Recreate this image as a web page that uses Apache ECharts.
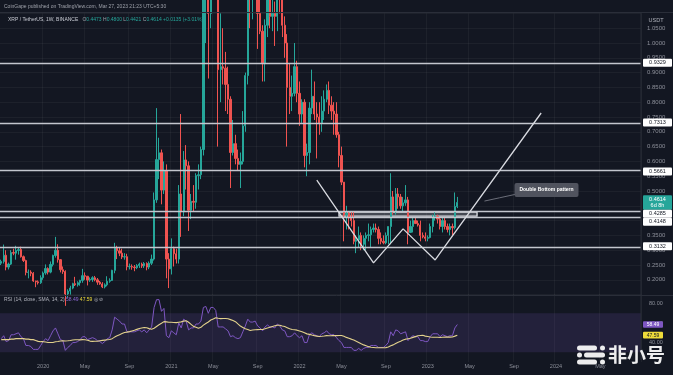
<!DOCTYPE html>
<html><head><meta charset="utf-8">
<script src="https://cdn.jsdelivr.net/npm/echarts@6/dist/echarts.min.js"></script>
<style>html,body{margin:0;padding:0;background:#131722;overflow:hidden;}#c{width:673px;height:375px;}</style>
</head><body><div id="c"></div>
<script>
// ---------------- DATA ----------------
const firstWeek = '2019-09-09';
const totalWeeks = 260;
// weekly candles [open, close, low, high]
const weeklyOHLC = [
[0.256,0.262,0.250,0.268],[0.262,0.283,0.255,0.319],[0.283,0.243,0.232,0.300],[0.243,0.253,0.235,0.258],
[0.253,0.292,0.250,0.300],[0.292,0.290,0.283,0.305],[0.290,0.299,0.268,0.315],[0.299,0.302,0.285,0.310],
[0.302,0.278,0.275,0.312],[0.278,0.265,0.260,0.282],[0.265,0.225,0.215,0.268],[0.225,0.226,0.205,0.235],
[0.226,0.222,0.212,0.232],[0.222,0.196,0.193,0.226],[0.196,0.193,0.175,0.197],[0.193,0.190,0.184,0.198],
[0.190,0.207,0.186,0.215],
[0.207,0.223,0.200,0.228],[0.223,0.238,0.217,0.252],[0.238,0.226,0.218,0.242],[0.226,0.252,0.222,0.262],
[0.252,0.282,0.245,0.285],[0.282,0.300,0.275,0.345],[0.300,0.268,0.258,0.320],[0.268,0.234,0.225,0.270],
[0.234,0.228,0.220,0.245],[0.228,0.152,0.112,0.232],[0.152,0.162,0.140,0.168],[0.162,0.172,0.150,0.180],
[0.172,0.187,0.168,0.190],[0.187,0.183,0.179,0.210],[0.183,0.190,0.177,0.195],[0.190,0.198,0.180,0.200],
[0.198,0.214,0.190,0.237],[0.214,0.212,0.200,0.225],[0.212,0.199,0.181,0.213],[0.199,0.201,0.193,0.208],
[0.201,0.207,0.193,0.212],[0.207,0.200,0.195,0.213],[0.200,0.192,0.183,0.206],[0.192,0.186,0.183,0.196],
[0.186,0.176,0.172,0.192],[0.176,0.183,0.171,0.188],[0.183,0.195,0.178,0.212],[0.195,0.198,0.190,0.205],
[0.198,0.232,0.196,0.234],[0.232,0.307,0.222,0.325],[0.307,0.298,0.270,0.315],[0.298,0.290,0.280,0.310],
[0.290,0.277,0.270,0.305],[0.277,0.278,0.268,0.290],[0.278,0.244,0.232,0.288],[0.244,0.245,0.235,0.255],
[0.245,0.243,0.234,0.252],[0.243,0.241,0.229,0.250],[0.241,0.248,0.236,0.253],[0.248,0.253,0.240,0.258],
[0.253,0.247,0.240,0.258],[0.247,0.255,0.240,0.260],[0.255,0.243,0.232,0.259],[0.243,0.256,0.236,0.262],
[0.256,0.270,0.250,0.285],[0.270,0.470,0.265,0.495],[0.470,0.606,0.460,0.780],[0.606,0.629,0.540,0.680],
[0.629,0.503,0.455,0.640],[0.503,0.568,0.490,0.600],[0.568,0.270,0.205,0.590],[0.270,0.237,0.172,0.290],
[0.237,0.305,0.218,0.340],[0.305,0.288,0.245,0.312],[0.288,0.270,0.255,0.305],[0.270,0.490,0.255,0.520],
[0.490,0.430,0.345,0.760],[0.430,0.605,0.415,0.635],[0.605,0.585,0.505,0.655],[0.585,0.435,0.365,0.600],
[0.435,0.465,0.405,0.490],[0.465,0.462,0.430,0.520],[0.462,0.552,0.440,0.560],[0.552,0.555,0.505,0.590],
[0.555,0.640,0.540,0.650],[0.640,1.340,0.620,1.420],[1.340,1.380,1.000,1.960],[1.380,1.100,0.880,1.430],
[1.100,1.520,1.050,1.680],[1.520,1.570,1.400,1.750],[1.570,1.450,1.150,1.800],[1.450,0.910,0.650,1.600],
[0.910,0.920,0.800,1.100],[0.920,0.915,0.860,1.050],[0.915,0.860,0.770,0.970],[0.860,0.810,0.760,0.920],
[0.810,0.630,0.510,0.820],[0.630,0.660,0.620,0.740],[0.660,0.610,0.590,0.690],[0.610,0.590,0.570,0.640],
[0.590,0.600,0.510,0.630],[0.600,0.720,0.590,0.770],[0.720,0.890,0.700,0.900],[0.890,1.270,0.860,1.290],
[1.270,1.170,1.050,1.350],[1.170,1.180,1.080,1.410],[1.180,1.260,1.110,1.330],[1.260,1.100,0.980,1.410],
[1.100,1.040,1.030,1.170],[1.040,0.930,0.870,1.060],[0.930,1.060,0.870,1.080],[1.060,1.160,1.020,1.230],
[1.160,1.090,1.050,1.220],[1.090,1.100,1.040,1.160],[1.100,1.090,0.990,1.140],[1.090,1.250,1.040,1.280],
[1.250,1.190,1.100,1.350],[1.190,1.060,1.020,1.210],[1.060,1.000,0.950,1.090],[1.000,0.850,0.650,1.030],
[0.850,0.820,0.760,0.930],[0.820,0.830,0.770,0.890],[0.830,0.920,0.820,1.000],[0.920,0.830,0.800,0.940],
[0.830,0.760,0.720,0.870],[0.760,0.800,0.730,0.810],[0.800,0.620,0.580,0.810],[0.620,0.630,0.550,0.660],
[0.630,0.780,0.590,0.800],[0.780,0.820,0.760,0.910],[0.820,0.760,0.740,0.870],[0.760,0.750,0.610,0.800],
[0.750,0.730,0.690,0.800],[0.730,0.770,0.700,0.820],[0.770,0.810,0.740,0.840],[0.810,0.840,0.800,0.860],
[0.840,0.790,0.760,0.870],[0.790,0.770,0.740,0.820],[0.770,0.760,0.690,0.800],[0.760,0.690,0.680,0.800],
[0.690,0.620,0.580,0.700],[0.620,0.530,0.520,0.650],[0.530,0.420,0.330,0.530],[0.420,0.425,0.370,0.450],
[0.425,0.410,0.370,0.430],[0.410,0.400,0.380,0.430],[0.400,0.330,0.320,0.430],[0.330,0.335,0.290,0.350],
[0.335,0.350,0.310,0.380],[0.350,0.320,0.300,0.360],[0.320,0.340,0.300,0.350],[0.340,0.350,0.300,0.360],
[0.350,0.352,0.330,0.390],[0.352,0.370,0.310,0.380],[0.370,0.375,0.360,0.390],[0.375,0.370,0.360,0.390],
[0.370,0.340,0.320,0.380],[0.340,0.330,0.320,0.360],[0.330,0.325,0.320,0.350],[0.325,0.350,0.320,0.360],
[0.350,0.380,0.320,0.380],[0.380,0.480,0.320,0.560],[0.480,0.430,0.420,0.500],[0.430,0.490,0.420,0.510],
[0.490,0.480,0.440,0.510],[0.480,0.450,0.440,0.490],[0.450,0.460,0.430,0.480],[0.460,0.470,0.450,0.520],
[0.470,0.360,0.320,0.480],[0.360,0.380,0.360,0.400],[0.380,0.400,0.360,0.410],[0.400,0.390,0.390,0.410],
[0.390,0.385,0.380,0.400],[0.385,0.350,0.330,0.400],[0.350,0.345,0.340,0.360],[0.345,0.340,0.330,0.360],
[0.340,0.343,0.330,0.350],[0.343,0.380,0.340,0.390],[0.380,0.410,0.360,0.420],[0.410,0.415,0.400,0.430],
[0.415,0.405,0.390,0.420],[0.405,0.380,0.370,0.410],[0.380,0.400,0.360,0.410],[0.400,0.380,0.370,0.410],
[0.380,0.370,0.360,0.390],[0.370,0.380,0.350,0.390],[0.380,0.376,0.350,0.390],[0.376,0.4479,0.370,0.4950],
[0.4473,0.4614,0.4421,0.4800]
];
const rsiValues = [
44,47,41,42,48,48,49,50,46,44,
37,37,36,33,33,33,37,41,44,42,
47,52,55,49,43,42,32,35,37,40,
40,41,43,46,46,43,44,45,44,42,
41,39,41,44,45,53,66,64,62,59,
59,51,51,51,51,52,53,51,53,50,
53,56,76,84,84,72,75,47,45,52,
50,48,60,55,64,62,53,55,55,59,
59,62,76,77,70,76,76,73,56,56,
56,54,52,46,47,45,44,45,51,57,
64,61,61,62,57,55,52,56,58,56,
56,55,59,57,53,52,46,46,47,50,
47,45,47,40,40,48,50,48,47,46,
49,50,52,49,48,48,45,42,40,35,
35,35,35,32,32,34,32,34,35,35,
37,37,37,35,35,35,37,40,51,47,
53,52,49,50,51,42,45,47,46,46,
42,42,41,41,46,49,49,49,46,48,
47,46,47,47,55,58.49];
const rsiMA = [
43,43,43,43,43.5,43.5,44,44,44,44,43.5,43.5,43,43.0,
42.2,41.2,40.9,40.9,40.6,40.1,
40.0,40.1,40.8,41.1,41.6,41.9,41.6,41.8,42.1,42.6,
42.8,42.8,42.7,43.0,42.9,42.3,41.5,41.2,41.3,41.3,
41.9,42.2,42.5,42.8,43.1,44.0,45.6,46.9,48.1,49.2,
50.3,50.7,51.2,51.9,52.6,53.5,54.4,54.9,55.4,55.2,
54.3,53.7,54.7,56.5,58.3,59.8,61.5,61.2,60.8,60.8,
60.6,60.4,60.9,61.2,62.0,62.4,60.8,58.7,56.6,55.7,
54.6,55.6,57.9,59.6,61.1,63.1,64.2,65.5,64.9,64.5,
64.7,64.6,64.4,63.5,62.6,61.4,59.1,56.9,55.5,54.1,
53.3,52.4,52.8,53.2,53.3,53.4,53.4,54.1,54.9,55.6,
56.5,57.2,57.8,57.8,57.0,56.4,55.3,54.1,53.4,53.1,
52.7,51.9,51.1,50.0,48.9,48.4,47.7,47.1,46.6,46.2,
46.4,46.7,47.1,47.0,47.1,47.3,47.1,47.3,47.3,46.4,
45.3,44.4,43.5,42.5,41.3,40.1,38.7,37.6,36.7,35.8,
35.2,34.9,34.6,34.6,34.6,34.6,34.8,35.4,36.7,37.6,
39.1,40.4,41.4,42.5,43.5,43.9,44.4,45.3,46.1,46.9,
47.2,47.4,46.6,46.2,45.7,45.5,45.5,45.4,45.1,45.5,
45.6,45.6,45.6,45.7,46.6,47.59];
const levelPrices = [0.9329, 0.7313, 0.5661, 0.4285, 0.4148, 0.3132];
const lastPrice = 0.4614;
const lastCountdown = '6d 8h';
const lastRSI = 58.49, lastRSIMA = 47.59;
// double bottom drawing: [week index, price]
const wPatternIdx = [128, 151, 163, 176, 219];
const wPatternPrice = [0.537, 0.257, 0.372, 0.267, 0.7635];
// neckline box: week range and price range
const neckWeeks = [137, 193];
const neckPrices = [0.4285, 0.4148];
const calloutText = 'Double Bottom pattern';
const calloutAnchor = [196, 0.466];
const calloutPos = [209, 0.503];
const headerLine1 = 'CoinGape published on TradingView.com, Mar 27, 2023 21:23 UTC+5:30';
const symbolText = 'XRP / TetherUS, 1W, BINANCE';
const ohlcText = ['O','0.4473','H','0.4800','L','0.4421','C','0.4614','+0.0135 (+3.01%)'];

// ---------------- BUILD ----------------
const categories = [];
(function(){ const t0 = Date.parse(firstWeek + 'T00:00:00Z');
  for (let i = 0; i < totalWeeks; i++) categories.push(new Date(t0 + i*7*864e5).toISOString().slice(0,10)); })();
const MONTHS = ['Jan','Feb','Mar','Apr','May','Jun','Jul','Aug','Sep','Oct','Nov','Dec'];
function isTick(i){ const d = new Date(categories[i] + 'T00:00:00Z'); return d.getUTCDate() <= 7 && d.getUTCMonth() % 4 === 0; }
function tickLabel(v){ const d = new Date(v + 'T00:00:00Z'); return d.getUTCMonth() === 0 ? String(d.getUTCFullYear()) : MONTHS[d.getUTCMonth()]; }

const UP = '#26a69a', DOWN = '#ef5350';
const gridLine = 'rgba(255,255,255,0.045)';
const FONT = '"Liberation Sans", Arial, sans-serif';
const chart = echarts.init(document.getElementById('c'));

chart.setOption({
  backgroundColor: '#131722',
  animation: false,
  textStyle: { fontFamily: FONT },
  grid: [
    { left: 0, right: 32, top: 13.4, height: 281.2 },
    { left: 0, right: 32, top: 293.8, height: 68.25 }
  ],
  xAxis: [
    { type: 'category', gridIndex: 0, data: categories, boundaryGap: true,
      axisLine: { show: false }, axisTick: { show: false }, axisLabel: { show: false },
      splitLine: { show: true, interval: (i) => isTick(i), lineStyle: { color: gridLine } } },
    { type: 'category', gridIndex: 1, data: categories, boundaryGap: true,
      axisLine: { show: false }, axisTick: { show: false },
      axisLabel: { show: true, interval: (i) => isTick(i), formatter: tickLabel, color: '#8c8f99', fontSize: 5.5, margin: 1 },
      splitLine: { show: true, interval: (i) => isTick(i), lineStyle: { color: gridLine } } }
  ],
  yAxis: [
    { type: 'value', gridIndex: 0, position: 'right', min: 0.15, max: 1.1, interval: 0.05,
      axisLine: { show: false }, axisTick: { show: false },
      axisLabel: { color: '#8c8f99', fontSize: 6, margin: 6,
        formatter: v => (v < 0.17 || v > 1.08) ? '' : v.toFixed(4) },
      splitLine: { show: true, lineStyle: { color: gridLine } } },
    { type: 'value', gridIndex: 1, position: 'right', min: 20, max: 90, interval: 20,
      axisLine: { show: false }, axisTick: { show: false },
      axisLabel: { color: '#8c8f99', fontSize: 5.5, margin: 8,
        formatter: v => (v >= 39 && v <= 81) ? v.toFixed(2) : '' },
      splitLine: { show: false } }
  ],
  series: [
    { type: 'candlestick', xAxisIndex: 0, yAxisIndex: 0, data: weeklyOHLC, clip: true, barWidth: '72%',
      itemStyle: { color: UP, color0: DOWN, borderColor: UP, borderColor0: DOWN, borderWidth: 1 },
      markLine: { silent: true, symbol: ['none','none'], label: { show: false },
        lineStyle: { color: '#c3c6ce', width: 1.3, type: 'solid' },
        data: levelPrices.map(v => ({ yAxis: v })) },
      markArea: { silent: true,
        itemStyle: { color: 'rgba(200,203,212,0.28)', borderColor: '#dfe1e6', borderWidth: 1.3 },
        data: [[ { xAxis: categories[neckWeeks[0]], yAxis: neckPrices[0] },
                 { xAxis: categories[neckWeeks[1]], yAxis: neckPrices[1] } ]] }
    },
    { type: 'line', xAxisIndex: 0, yAxisIndex: 0, z: 5, symbol: 'none', silent: true,
      data: wPatternIdx.map((w, k) => [categories[w], wPatternPrice[k]]),
      lineStyle: { color: '#d8dae0', width: 1.3 } },
    { type: 'line', xAxisIndex: 1, yAxisIndex: 1, symbol: 'none', silent: true, data: rsiValues,
      lineStyle: { color: '#7e57c2', width: 1 },
      markArea: { silent: true, itemStyle: { color: 'rgba(126,87,194,0.16)' },
        data: [[ { yAxis: 30 }, { yAxis: 70 } ]] } },
    { type: 'line', xAxisIndex: 1, yAxisIndex: 1, symbol: 'none', silent: true, data: rsiMA,
      lineStyle: { color: '#e3d28c', width: 1.1 } }
  ]
});

// ---------------- OVERLAYS (positions from the axes) ----------------
function txt(x, y, text, font, fill, align, z) {
  return { type: 'text', x: x, y: y, z: z || 60, silent: true,
    style: { text: text, font: font, fill: fill, align: align || 'left', textAlign: align || 'left',
             verticalAlign: 'middle', textVerticalAlign: 'middle' } };
}
const els = [];
const yPx = v => chart.convertToPixel({ yAxisIndex: 0 }, v);
const rPx = v => chart.convertToPixel({ yAxisIndex: 1 }, v);
const pt = (w, v) => chart.convertToPixel({ gridIndex: 0 }, [categories[w], v]);

// separators
els.push({ type: 'line', z: 55, silent: true, shape: { x1: 0, y1: 12.5, x2: 673, y2: 12.5 }, style: { stroke: '#2a2e39', lineWidth: 1 } });
els.push({ type: 'line', z: 55, silent: true, shape: { x1: 0, y1: 295.5, x2: 673, y2: 295.5 }, style: { stroke: '#2a2e39', lineWidth: 1 } });
els.push({ type: 'line', z: 55, silent: true, shape: { x1: 641, y1: 13, x2: 641, y2: 360 }, style: { stroke: '#2a2e39', lineWidth: 1 } });

// header
els.push(txt(4, 6.5, headerLine1, '5px ' + FONT, '#9ea1aa'));
els.push({ type: 'text', x: 8, y: 20, z: 60, silent: true,
  style: { text: '{s|' + symbolText + '}   ' + ohlcText.map((t, k) => (k % 2 === 0 && k < 8 ? '{k|' + t + '}' : '{v|' + t + '} ')).join(''),
    font: '5px ' + FONT, verticalAlign: 'middle', textVerticalAlign: 'middle',
    rich: { s: { fill: '#c8cbd3', font: '5px ' + FONT, color: '#c8cbd3' },
            k: { fill: '#9ea1aa', color: '#9ea1aa', font: '5px ' + FONT },
            v: { fill: UP, color: UP, font: '5px ' + FONT } } } });
els.push(txt(656, 20, 'USDT', '5.5px ' + FONT, '#b2b5be', 'center'));

// price tags on the right
const tags = levelPrices.map(v => ({ v: v, lines: [v.toFixed(4)], bg: '#ffffff', fg: '#131722' }));
tags.push({ v: lastPrice, lines: [lastPrice.toFixed(4), lastCountdown], bg: UP, fg: '#ffffff' });
tags.forEach(t => { t.h = t.lines.length * 6.4 + 1.6; t.y = yPx(t.v); });
tags.sort((a, b) => a.y - b.y);
let prevBottom = -1e9;
tags.forEach(t => {
  let top = t.y - t.h / 2; if (top < prevBottom) top = prevBottom; prevBottom = top + t.h;
  els.push({ type: 'rect', z: 70, silent: true, shape: { x: 643, y: top, width: 29, height: t.h, r: 1 }, style: { fill: t.bg } });
  t.lines.forEach((ln, k) => els.push(txt(657.5, top + 0.8 + 3.2 + k * 6.4, ln, '5.5px ' + FONT, t.fg, 'center', 71)));
});

// RSI tags
[[lastRSI, '#7e57c2', '#ffffff'], [lastRSIMA, '#eedc3a', '#131722']].forEach(r => {
  const y = rPx(r[0]);
  els.push({ type: 'rect', z: 70, silent: true, shape: { x: 643, y: y - 3.3, width: 20, height: 6.6, r: 1 }, style: { fill: r[1] } });
  els.push(txt(653, y, r[0].toFixed(2), '5px ' + FONT, r[2], 'center', 71));
});

// RSI legend
els.push({ type: 'text', x: 4, y: 299.5, z: 60, silent: true,
  style: { text: '{g|RSI (14, close, SMA, 14, 2)} {p|' + lastRSI.toFixed(2) + '} {y|' + lastRSIMA.toFixed(2) + '} {g|◎ ⊘}',
    font: '5px ' + FONT, verticalAlign: 'middle', textVerticalAlign: 'middle',
    rich: { g: { fill: '#b2b5be', color: '#b2b5be', font: '5px ' + FONT },
            p: { fill: '#8f6ad6', color: '#8f6ad6', font: '5px ' + FONT },
            y: { fill: '#eedc3a', color: '#eedc3a', font: '5px ' + FONT } } } });

// callout
const a = pt(calloutAnchor[0], calloutAnchor[1]);
const b = pt(calloutPos[0], calloutPos[1]);
els.push({ type: 'bezierCurve', z: 64, silent: true,
  shape: { x1: a[0], y1: a[1], x2: b[0], y2: b[1] + 4, cpx1: a[0] + 14, cpy1: a[1] - 3 },
  style: { stroke: '#6b6e79', lineWidth: 1, fill: null } });
els.push({ type: 'rect', z: 65, silent: true, shape: { x: b[0] - 2, y: b[1] - 7, width: 64, height: 14, r: 2 }, style: { fill: '#50535e' } });
els.push(txt(b[0] + 30, b[1], calloutText, 'bold 5px ' + FONT, '#ffffff', 'center', 66));

// watermark
const wm = 'rgba(255,255,255,0.92)';
[[577,345.5,20],[600,345.5,5],[577,352.5,5],[584,352.5,21],[577,359.5,20],[600,359.5,5]].forEach(r => {
  els.push({ type: 'rect', z: 80, silent: true, shape: { x: r[0], y: r[1], width: r[2], height: 5, r: 2.5 }, style: { fill: wm } });
});
els.push(txt(636.5, 355, '非小号', 'bold 19px "Noto Sans CJK SC"', wm, 'center', 80));

chart.setOption({ graphic: { elements: els } });
</script>
</body></html>
